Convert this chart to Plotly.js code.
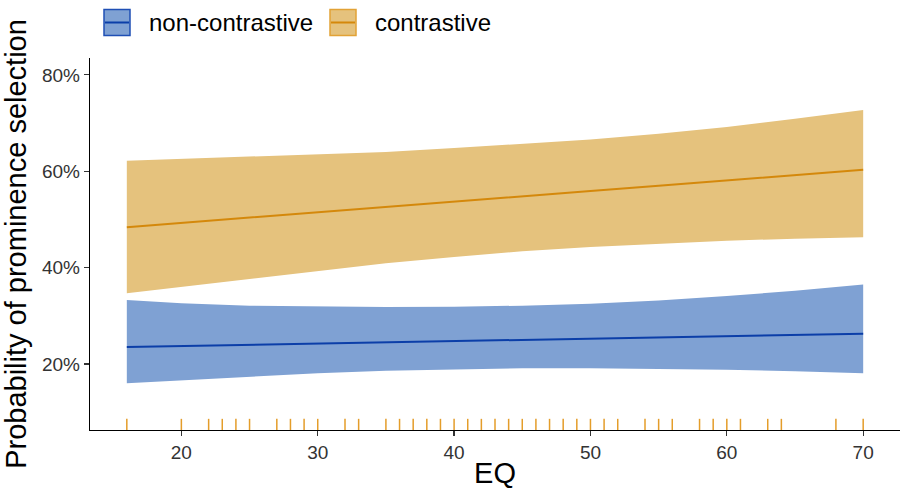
<!DOCTYPE html>
<html>
<head>
<meta charset="utf-8">
<script src="https://cdn.plot.ly/plotly-3.0.1.min.js"></script>
<style>
  html, body { margin: 0; padding: 0; background: #fff; }
  #chart { width: 900px; height: 489px; }
</style>
</head>
<body>
<div id="chart"></div>
<script>
// EQ values at which the predicted probabilities are evaluated
const eq = [16, 20, 25, 30, 35, 40, 45, 50, 55, 60, 65, 70];

// Non-contrastive: predicted probability and 95% interval
const nonFit   = [0.235, 0.237, 0.240, 0.242, 0.245, 0.247, 0.250, 0.253, 0.255, 0.258, 0.260, 0.263];
const nonLower = [0.160, 0.166, 0.174, 0.181, 0.186, 0.189, 0.191, 0.191, 0.190, 0.188, 0.185, 0.181];
const nonUpper = [0.333, 0.326, 0.321, 0.319, 0.318, 0.319, 0.321, 0.325, 0.332, 0.341, 0.352, 0.365];

// Contrastive: predicted probability and 95% interval
const conFit   = [0.484, 0.493, 0.504, 0.515, 0.526, 0.537, 0.548, 0.559, 0.570, 0.581, 0.592, 0.603];
const conLower = [0.347, 0.360, 0.377, 0.393, 0.409, 0.422, 0.434, 0.443, 0.450, 0.456, 0.460, 0.463];
const conUpper = [0.622, 0.626, 0.630, 0.635, 0.640, 0.648, 0.657, 0.666, 0.678, 0.692, 0.709, 0.727];

// Observed EQ scores of participants (rug)
const rugEQ = [16, 20, 22, 23, 24, 25, 27, 28, 29, 30, 32, 33, 35, 36, 37, 38, 39, 40,
               41, 42, 43, 44, 45, 46, 47, 48, 49, 50, 51, 52, 54, 55, 56, 58, 59, 60,
               61, 63, 64, 68, 70];

const xTicks = [20, 30, 40, 50, 60, 70];
const yTicks = [0.2, 0.4, 0.6, 0.8];

const groups = [
  { name: 'non-contrastive', fit: nonFit, lo: nonLower, hi: nonUpper,
    fill: '#7fa1d3', line: '#0b3ea8', edge: '#1f4fb5' },
  { name: 'contrastive', fit: conFit, lo: conLower, hi: conUpper,
    fill: '#e5c27d', line: '#d4880b', edge: '#e2a236' }
];

const traces = [];
groups.forEach(g => {
  traces.push({ x: eq, y: g.lo, type: 'scatter', mode: 'lines',
    line: { width: 0, color: g.fill }, showlegend: false, hoverinfo: 'skip' });
  traces.push({ x: eq, y: g.hi, type: 'scatter', mode: 'lines', fill: 'tonexty',
    fillcolor: g.fill, line: { width: 0, color: g.fill }, showlegend: false, hoverinfo: 'skip' });
  traces.push({ x: eq, y: g.fit, type: 'scatter', mode: 'lines',
    line: { width: 2, color: g.line }, showlegend: false, name: g.name });
});

// Rug along the bottom of the panel
const rugX = [], rugY = [];
rugEQ.forEach(v => { rugX.push(v, v, null); rugY.push(0, 0.03, null); });
traces.push({ x: rugX, y: rugY, yaxis: 'y2', type: 'scatter', mode: 'lines',
  line: { color: '#e08c05', width: 1.5 }, opacity: 0.85, showlegend: false, hoverinfo: 'skip' });

// Plot area geometry (px) used to place the legend above the panel
const W = 900, H = 489;
const M = { l: 90, r: 0, t: 58, b: 59 };
const pw = W - M.l - M.r, ph = H - M.t - M.b;
const px = v => (v - M.l) / pw;          // page x -> paper x
const py = v => (H - M.b - v) / ph;      // page y -> paper y

// Legend: boxed key with the fitted line through it, then the label
const keyLeft = [104, 330], keySize = 26, keyTop = 9.5, textGap = 17;
const shapes = [], annotations = [];
groups.forEach((g, i) => {
  const x0 = keyLeft[i], x1 = x0 + keySize, yc = keyTop + keySize / 2;
  shapes.push({ type: 'rect', xref: 'paper', yref: 'paper',
    x0: px(x0), x1: px(x1), y0: py(keyTop + keySize), y1: py(keyTop),
    fillcolor: g.fill, line: { color: g.edge, width: 1.5 } });
  shapes.push({ type: 'line', xref: 'paper', yref: 'paper',
    x0: px(x0 + 1), x1: px(x1 - 1), y0: py(yc), y1: py(yc),
    line: { color: g.line, width: 2 } });
  annotations.push({ xref: 'paper', yref: 'paper', x: px(x1 + textGap), y: py(yc),
    xanchor: 'left', yanchor: 'middle', showarrow: false, text: g.name,
    font: { size: 24, color: '#000' } });
});

const layout = {
  width: W, height: H,
  margin: M,
  paper_bgcolor: '#ffffff', plot_bgcolor: '#ffffff',
  font: { family: 'Liberation Sans, Arial, sans-serif', color: '#000' },
  showlegend: false,
  shapes: shapes,
  annotations: annotations,
  xaxis: {
    range: [13.3, 72.7], tickvals: xTicks, ticktext: xTicks.map(String),
    showgrid: false, zeroline: false, showline: true, linecolor: '#000', linewidth: 1.2,
    ticks: 'outside', ticklen: 5, tickwidth: 1.2, tickcolor: '#333',
    tickfont: { size: 19, color: '#333' },
    title: { text: 'EQ', font: { size: 29, color: '#000' }, standoff: 6 }
  },
  yaxis: {
    range: [0.063, 0.835], tickvals: yTicks, tickformat: '.0%',
    showgrid: false, zeroline: false, showline: true, linecolor: '#000', linewidth: 1.2,
    ticks: 'outside', ticklen: 5, tickwidth: 1.2, tickcolor: '#333',
    tickfont: { size: 19, color: '#333' },
    title: { text: 'Probability of prominence selection', font: { size: 29, color: '#000' }, standoff: 10 }
  },
  yaxis2: { overlaying: 'y', range: [0, 1], visible: false, fixedrange: true }
};

Plotly.newPlot('chart', traces, layout, { displayModeBar: false, staticPlot: true });
</script>
</body>
</html>
